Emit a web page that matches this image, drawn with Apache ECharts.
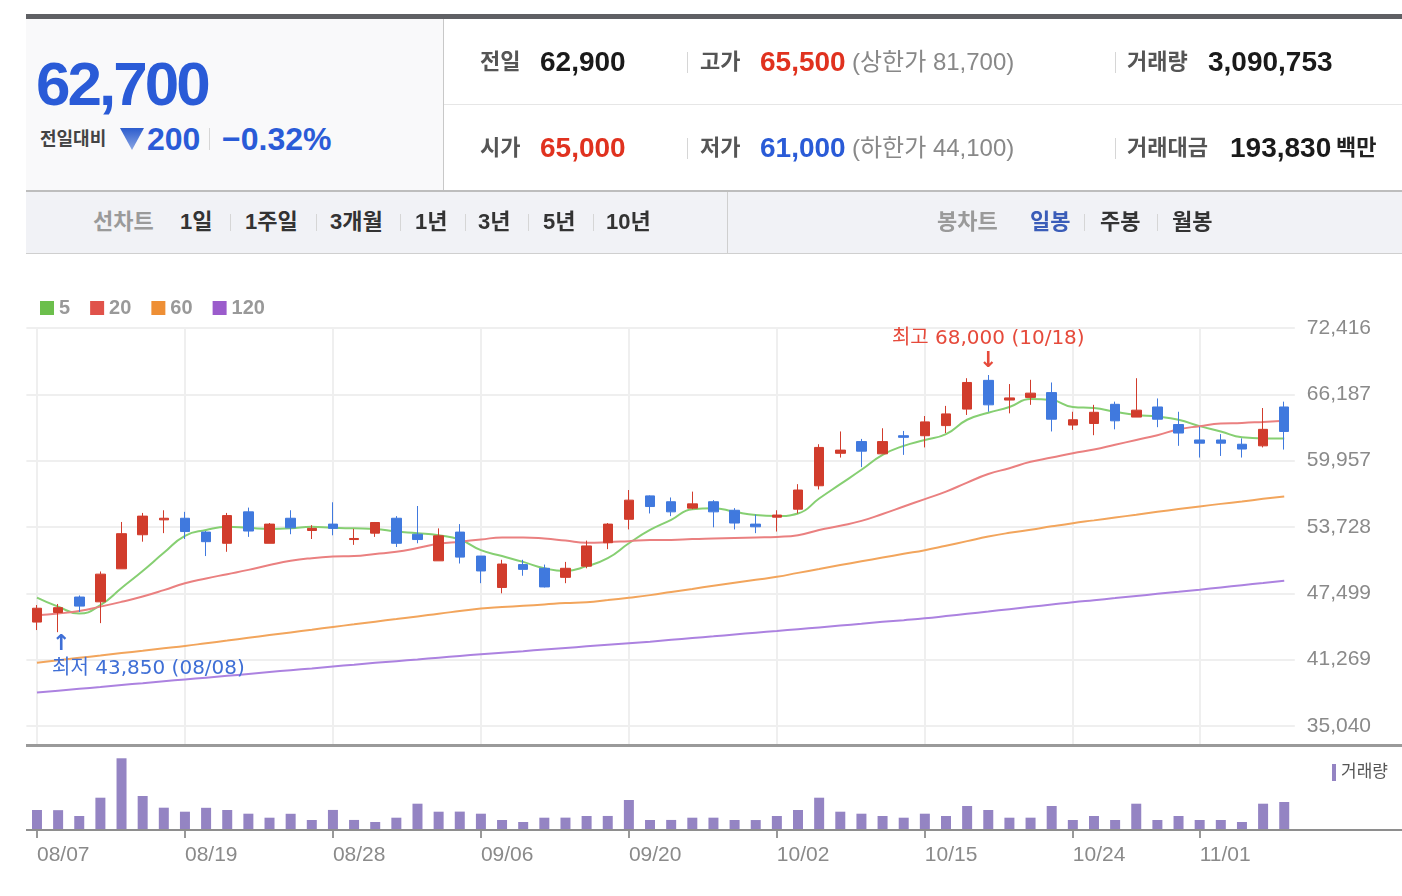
<!DOCTYPE html>
<html><head><meta charset="utf-8">
<script src="https://cdn.jsdelivr.net/npm/echarts@6/dist/echarts.min.js"></script>
<style>
html,body{margin:0;padding:0;background:#fff;width:1402px;height:896px;overflow:hidden;}
#chart{position:absolute;left:0;top:0;width:1402px;height:896px;}
#hdr{position:absolute;left:0;top:0;width:1402px;height:260px;pointer-events:none;}
#hdr div{position:absolute;}
.t{white-space:nowrap;line-height:1;font-family:"Liberation Sans","Noto Sans CJK KR",sans-serif;}
.b{font-weight:bold;}
.lab{font-size:22px;font-weight:bold;color:#555;}
.num{font-size:28px;font-weight:bold;color:#1a1a1a;}
.gry{font-size:24px;color:#888;}
.red{color:#e0321f;}
.blu{color:#2a5bd7;}
.sep{width:1px;background:#d6d6d6;}
.m{font-size:22px;font-weight:bold;color:#333;}
.mg{font-size:22px;font-weight:bold;color:#9a9a9a;}
</style></head>
<body>
<div id="chart"></div>
<div id="hdr">
  <div style="left:26px;top:14px;width:1376px;height:5px;background:#5f6064;"></div>
  <div style="left:26px;top:19px;width:417px;height:171px;background:#f9f9fa;"></div>
  <div style="left:443px;top:19px;width:1px;height:171px;background:#c8c8c8;"></div>
  <div style="left:444px;top:104px;width:958px;height:1px;background:#e6e6e6;"></div>
  <div style="left:26px;top:190px;width:1376px;height:61px;background:#f1f2f6;border-top:2px solid #bdbdbd;border-bottom:1px solid #cfcfcf;"></div>
  <div style="left:727px;top:192px;width:1px;height:61px;background:#cfcfcf;"></div>

  <div class="t b blu" style="left:36px;top:53px;font-size:62px;letter-spacing:-3px;">62,700</div>
  <div class="t b" style="left:40px;top:130px;font-size:18px;color:#444;">전일대비</div>
  <div style="left:120px;top:128px;width:24px;height:22px;clip-path:polygon(0 0,100% 0,50% 100%);background:linear-gradient(#2c5ccd,#8aa6e4);"></div>
  <div class="t b blu" style="left:147px;top:123px;font-size:32px;">200</div>
  <div class="sep" style="left:209px;top:128px;height:22px;"></div>
  <div class="t b blu" style="left:222px;top:123px;font-size:32px;">−0.32%</div>

  <div class="t lab" style="left:480px;top:51px;">전일</div>
  <div class="t num" style="left:540px;top:48px;">62,900</div>
  <div class="sep" style="left:687px;top:52px;height:21px;"></div>
  <div class="t lab" style="left:700px;top:51px;">고가</div>
  <div class="t num red" style="left:760px;top:48px;">65,500</div>
  <div class="t gry" style="left:852px;top:50px;">(상한가 81,700)</div>
  <div class="sep" style="left:1115px;top:52px;height:21px;"></div>
  <div class="t lab" style="left:1127px;top:51px;">거래량</div>
  <div class="t num" style="left:1208px;top:48px;">3,090,753</div>

  <div class="t lab" style="left:480px;top:137px;">시가</div>
  <div class="t num red" style="left:540px;top:134px;">65,000</div>
  <div class="sep" style="left:687px;top:138px;height:21px;"></div>
  <div class="t lab" style="left:700px;top:137px;">저가</div>
  <div class="t num blu" style="left:760px;top:134px;">61,000</div>
  <div class="t gry" style="left:852px;top:136px;">(하한가 44,100)</div>
  <div class="sep" style="left:1115px;top:138px;height:21px;"></div>
  <div class="t lab" style="left:1127px;top:137px;">거래대금</div>
  <div class="t num" style="left:1230px;top:134px;">193,830</div>
  <div class="t b" style="left:1336px;top:137px;font-size:22px;color:#222;">백만</div>

  <div class="t mg" style="left:93px;top:211px;">선차트</div>
  <div class="t m" style="left:180px;top:211px;">1일</div>
  <div class="sep" style="left:230px;top:214px;height:17px;"></div>
  <div class="t m" style="left:245px;top:211px;">1주일</div>
  <div class="sep" style="left:316px;top:214px;height:17px;"></div>
  <div class="t m" style="left:330px;top:211px;">3개월</div>
  <div class="sep" style="left:400px;top:214px;height:17px;"></div>
  <div class="t m" style="left:415px;top:211px;">1년</div>
  <div class="sep" style="left:465px;top:214px;height:17px;"></div>
  <div class="t m" style="left:478px;top:211px;">3년</div>
  <div class="sep" style="left:528px;top:214px;height:17px;"></div>
  <div class="t m" style="left:543px;top:211px;">5년</div>
  <div class="sep" style="left:593px;top:214px;height:17px;"></div>
  <div class="t m" style="left:606px;top:211px;">10년</div>

  <div class="t mg" style="left:937px;top:211px;">봉차트</div>
  <div class="t m" style="left:1030px;top:211px;color:#3a5cb8;">일봉</div>
  <div class="sep" style="left:1084px;top:214px;height:17px;"></div>
  <div class="t m" style="left:1100px;top:211px;">주봉</div>
  <div class="sep" style="left:1157px;top:214px;height:17px;"></div>
  <div class="t m" style="left:1172px;top:211px;">월봉</div>
</div>
<script>
const dates = ['08/07','08/08','08/09','08/12','08/13','08/14','08/16','08/19','08/20','08/21',
  '08/22','08/23','08/26','08/27','08/28','08/29','08/30','09/02','09/03','09/04',
  '09/05','09/06','09/09','09/10','09/11','09/12','09/13','09/19','09/20','09/23',
  '09/24','09/25','09/26','09/27','09/30','10/02','10/04','10/07','10/08','10/10',
  '10/11','10/14','10/15','10/16','10/17','10/18','10/21','10/22','10/23','10/24',
  '10/25','10/28','10/29','10/30','10/31','11/01','11/04','11/05','11/06','11/07'];
const labelDates = ['08/07','08/19','08/28','09/06','09/20','10/02','10/15','10/24','11/01'];

const opens = [44800,45700,47150,46700,49800,53000,54400,54550,53250,52200,
  55150,52200,54550,53400,54000,52550,53150,54550,53050,50550,
  53250,51000,48050,50200,49850,49000,50050,52250,54450,56650,
  56100,55500,56100,55300,54000,54650,55400,57600,60650,61750,
  60600,62300,62300,63250,64800,67500,65650,65900,66350,63300,
  63450,65250,64050,65000,63350,61900,61900,61500,61350,65000];
const closes = [46100,46150,46300,49300,53100,54750,54550,53300,52350,54800,
  53350,54000,53650,53600,53600,52650,54150,52200,52550,52900,
  50900,49600,50250,49750,48100,49850,51950,54000,56250,55650,
  55150,55900,55150,54100,53750,54850,57200,61200,60950,60850,
  61750,62150,63600,64350,67300,65200,65850,66300,63850,63800,
  64500,63700,64700,63850,62550,61600,61600,61050,62900,62700];
const lows = [44050,43850,45750,44700,49800,52350,53150,52600,51000,51400,
  52800,52200,53050,52600,52950,52050,52800,51850,52200,50550,
  50300,48450,47500,49150,48050,48450,49850,51650,53500,55000,
  54750,55400,53700,53500,53150,53300,55000,57250,60250,59350,
  60600,60500,61200,62550,64250,64550,64400,65200,62700,62850,
  62350,62900,64050,63100,61350,60250,60400,60250,61200,61000];
const highs = [46400,46500,47300,49550,54200,55050,55300,55150,53350,55050,
  55550,54100,55300,53900,56050,53550,54200,54750,55700,53600,
  54000,51000,50650,50650,50200,50450,52450,54100,57200,56700,
  56500,57050,56250,55500,54900,55300,57750,61500,62700,62000,
  63000,62750,64150,65100,67700,68000,67150,67550,67300,64550,
  65200,65500,67700,65800,64550,63150,62450,62050,64900,65500];

const ma5 = [47100,46250,45600,46400,48000,49600,51300,52900,53450,53750,
  53650,53550,53600,53750,53650,53600,53550,53300,53150,52950,
  52550,51550,51000,50450,49850,49600,50050,50800,52200,53450,
  54400,55400,55500,55150,54850,54750,55000,56400,57750,59100,
  60500,61350,61900,62450,63800,64450,65000,65750,65650,65000,
  64900,64550,64250,64100,63800,63200,62700,62150,62050,62050];
const ma20 = [45450,45600,45850,46250,46700,47200,47800,48450,48900,49300,
  49700,50150,50550,50800,50950,51000,51200,51400,51750,52150,
  52350,52550,52750,52750,52650,52450,52250,52300,52400,52500,
  52500,52600,52650,52700,52750,52800,52950,53450,53850,54300,
  54950,55650,56350,57050,57900,58700,59250,59850,60250,60650,
  61000,61450,61900,62350,62900,63200,63450,63500,63600,63700];
const ma60 = [40980,41210,41440,41660,41890,42110,42340,42560,42810,43060,
  43320,43580,43830,44080,44340,44590,44840,45080,45320,45590,
  45830,46070,46210,46330,46450,46580,46670,46870,47090,47330,
  47620,47910,48210,48490,48770,49050,49420,49780,50150,50510,
  50860,51210,51550,51970,52400,52830,53180,53470,53790,54090,
  54350,54620,54880,55150,55410,55660,55900,56130,56370,56590];
const ma120 = [38190,38360,38530,38700,38890,39060,39240,39410,39580,39750,
  39930,40110,40280,40450,40630,40800,40970,41130,41290,41460,
  41620,41780,41930,42070,42220,42370,42520,42670,42810,42960,
  43130,43300,43460,43630,43800,43960,44130,44300,44470,44640,
  44820,44980,45150,45360,45580,45790,46010,46230,46450,46670,
  46860,47050,47250,47450,47640,47840,48050,48260,48470,48680];
const volumes = [2208000,2190000,1545000,3565000,7915000,3753000,2462000,2020000,2450000,2208000,
  1799000,1358000,1790000,1104000,2215000,1110000,883000,1358000,2903000,2020000,
  2030000,1799000,1104000,883000,1358000,1365000,1545000,1550000,3312000,1104000,
  1110000,1358000,1360000,1104000,1100000,1545000,2208000,3565000,2020000,1799000,
  1545000,1358000,1799000,1545000,2649000,2208000,1358000,1360000,2649000,1104000,
  1545000,1104000,2903000,1104000,1545000,1104000,1104000,883000,2903000,3090753];

const priceMin = 35040, priceMax = 72416, priceSteps = 6;
const volMax = 9050000;
const maNames = ['5','20','60','120'];
const maColors = ['#6cbf4c','#e0524a','#ee8f35','#9b5ccc'];
const maLineColors = ['#86cf72','#ea8080','#f2a55c','#ac82e0'];

const F = '"Liberation Sans","Noto Sans CJK KR",sans-serif';
const FA = '"DejaVu Sans","Noto Sans CJK KR",sans-serif';
const fmt = v => Math.round(v).toLocaleString('en-US');
const showTick = (i, v) => labelDates.indexOf(v) >= 0;
const candleData = dates.map((d, i) => [opens[i], closes[i], lows[i], highs[i]]);
const hiVal = Math.max(...highs), hiIdx = highs.indexOf(hiVal);
const loVal = Math.min(...lows), loIdx = lows.indexOf(loVal);

const GL = 26.4, GW = 1268.4;
const chart = echarts.init(document.getElementById('chart'));
const maSeries = [ma5, ma20, ma60, ma120].map((arr, k) => ({
  name: maNames[k], type: 'line', xAxisIndex: 0, yAxisIndex: 0, data: arr,
  showSymbol: false, symbol: 'none', smooth: true, z: 2,
  itemStyle: {color: maColors[k]}, lineStyle: {color: maLineColors[k], width: 2}
}));
chart.setOption({
  animation: false,
  legend: [
    {data: maNames, left: 35, top: 293, icon: 'rect', itemWidth: 14, itemHeight: 14, itemGap: 20,
     selectedMode: false, textStyle: {color: '#999', fontSize: 20, fontWeight: 'bold', fontFamily: F}},
    {data: ['거래량'], left: 1327, top: 759, icon: 'rect', itemWidth: 4, itemHeight: 17, itemGap: 4,
     selectedMode: false, textStyle: {color: '#555', fontSize: 17, fontFamily: F}}
  ],
  grid: [
    {left: GL, width: GW, top: 328, height: 398, outerBoundsMode: 'none'},
    {left: GL, width: GW, top: 748, height: 82, outerBoundsMode: 'none'}
  ],
  xAxis: [
    {type: 'category', gridIndex: 0, data: dates, boundaryGap: true, offset: 19,
     axisLine: {show: false}, axisLabel: {show: false}, splitLine: {show: false},
     axisTick: {show: true, inside: true, length: 417, alignWithLabel: true, interval: showTick,
                lineStyle: {color: '#efefef', width: 2}}},
    {type: 'category', gridIndex: 1, data: dates, boundaryGap: true,
     axisLine: {show: false}, splitLine: {show: false},
     axisTick: {show: true, length: 8, alignWithLabel: true, interval: showTick, lineStyle: {color: '#999', width: 2}},
     axisLabel: {show: true, interval: showTick, align: 'left', margin: 15, color: '#8a8a8a', fontSize: 21, fontFamily: F}}
  ],
  yAxis: [
    {type: 'value', gridIndex: 0, position: 'right', min: priceMin, max: priceMax,
     interval: (priceMax - priceMin) / priceSteps, scale: true,
     axisLine: {show: false}, axisTick: {show: false},
     axisLabel: {margin: 12, color: '#8a8a8a', fontSize: 21, fontFamily: F, formatter: v => fmt(v)},
     splitLine: {show: true, lineStyle: {color: '#efefef', width: 2}}},
    {type: 'value', gridIndex: 1, min: 0, max: volMax, show: false, splitLine: {show: false}}
  ],
  graphic: [
    {type: 'rect', shape: {x: 26, y: 744, width: 1376, height: 3}, style: {fill: '#9a9a9a'}, z: 50},
    {type: 'rect', shape: {x: 26, y: 829, width: 1376, height: 2}, style: {fill: '#8e8e8e'}, z: 50}
  ],
  series: [
    ...maSeries,
    {name: '시세', type: 'candlestick', xAxisIndex: 0, yAxisIndex: 0, data: candleData, barWidth: 10, z: 3,
     itemStyle: {color: '#d13c2c', color0: '#4079de', borderColor: '#d13c2c', borderColor0: '#4079de', borderWidth: 1},
     markPoint: {
       symbol: 'rect', symbolSize: 1, itemStyle: {color: 'rgba(0,0,0,0)'}, animation: false,
       data: [
         {name: 'hi', coord: [dates[hiIdx], hiVal],
          label: {show: true, position: 'top', distance: 3,
                  formatter: '{t|최고 ' + fmt(hiVal) + ' (' + dates[hiIdx] + ')}\n{a|↓}',
                  rich: {t: {color: '#e64a3b', fontSize: 20, fontFamily: FA, lineHeight: 26, align: 'center'},
                         a: {color: '#e64a3b', fontSize: 22, fontWeight: 'bold', fontFamily: '"DejaVu Sans"', lineHeight: 20, align: 'center'}}}},
         {name: 'lo', coord: [dates[loIdx], loVal],
          label: {show: true, position: 'bottom', distance: 3, align: 'left', offset: [-6, 0],
                  formatter: '{a|↑}\n{t|최저 ' + fmt(loVal) + ' (' + dates[loIdx] + ')}',
                  rich: {t: {color: '#3f6fd6', fontSize: 20, fontFamily: FA, lineHeight: 30, align: 'left'},
                         a: {color: '#3f6fd6', fontSize: 22, fontWeight: 'bold', fontFamily: '"DejaVu Sans"', lineHeight: 18, align: 'left'}}}}
       ]
     }},
    {name: '거래량', type: 'bar', xAxisIndex: 1, yAxisIndex: 1, data: volumes, barWidth: 10,
     itemStyle: {color: '#9484c3'}}
  ]
});
</script>
</body></html>
